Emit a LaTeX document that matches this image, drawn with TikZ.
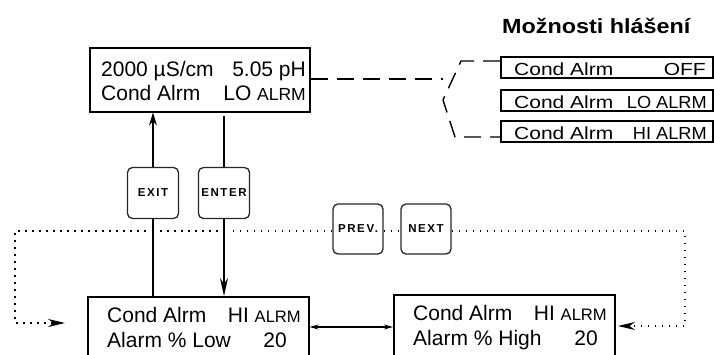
\documentclass[tikz,border=0pt]{standalone}
\usepackage{fontspec}
\setmainfont{Liberation Sans}
\usetikzlibrary{arrows.meta,calc}
\newcommand{\fs}[1]{\fontsize{#1}{#1}\selectfont}
\newcommand{\rbx}[1]{\scalebox{1.2}[1]{\fs{17.5}#1}}
\newcommand{\rtl}[1]{\scalebox{1.04}[1]{\fs{17.5}#1}}
\begin{document}
\begin{tikzpicture}[x=1pt,y=-1pt,
  lcd/.style={draw, line width=1.5pt, inner sep=0, anchor=north west},
  txt/.style={inner sep=0, font=\fs{21}},
  lft/.style={txt, anchor=base west},
  rgt/.style={txt, anchor=base east},
  btn/.style={draw=black!85, line width=1.3pt, rounded corners=5pt,
    minimum width=51pt, minimum height=51pt, inner sep=0,
    font=\fs{11.5}\bfseries\addfontfeature{LetterSpace=14}},
  conn/.style={line width=1.3pt},
  dots/.style={line width=1.8pt, dash pattern=on 1.8pt off 5.2pt},
  dsh/.style={line width=1.4pt, dash pattern=on 17pt off 9pt},
  bigtip/.style={-{Stealth[length=13pt,width=8pt]}},
  dottip/.style={-{Stealth[length=17pt,width=8pt]}},
]
\useasboundingbox (0,0) rectangle (714,354);
\clip (0,0) rectangle (714,354);

% title
\node[inner sep=0, anchor=base west, font=\bfseries\fs{20.5}] (title) at (502,33)
  {\scalebox{1.14}[1]{Možnosti hlášení}};

% main display box
\node[lcd, minimum width=220pt, minimum height=64pt] (top) at (89,47) {};
\node[lft] (t1a) at (101,76) {2000 µS/cm};
\node[rgt] (t1b) at (306,76) {5.05 pH};
\node[lft] (t2a) at (101,100) {Cond Alrm};
\node[rgt] (t2b) at (306,100) {LO {\fs{17.5}ALRM}};

% option boxes
\node[lcd, minimum width=212pt, minimum height=21pt] (o1) at (500,56) {};
\node[lcd, minimum width=212pt, minimum height=21pt] (o2) at (500,89) {};
\node[lcd, minimum width=212pt, minimum height=21pt] (o3) at (500,120) {};
\node[lft] (o1a) at (514,75) {\rbx{Cond Alrm}};
\node[rgt] (o1b) at (706,75) {\rbx{OFF}};
\node[lft] (o2a) at (514,108) {\rbx{Cond Alrm}};
\node[rgt] (o2b) at (707,108) {\rtl{LO ALRM}};
\node[lft] (o3a) at (514,139) {\rbx{Cond Alrm}};
\node[rgt] (o3b) at (707,139) {\rtl{HI ALRM}};

% switch dashed lines
\coordinate (sw) at (443,79);
\coordinate (s1) at (461,61);
\coordinate (s2) at (443,100);
\coordinate (s3) at (455,137);
\draw[dsh] (top.east |- sw) -- (sw);
\draw[dsh] (o1.west |- s1) -- (s1) -- (s2) -- (s3) -- (o3.west |- s3);

% buttons
\node[btn] (exit) at (153,193) {EXIT};
\node[btn] (enter) at (224,193) {ENTER};
\node[btn, minimum width=50pt, minimum height=50pt] (prev) at (358,229) {PREV.};
\node[btn, minimum width=50pt, minimum height=50pt] (next) at (426,229) {NEXT};

% bottom boxes
\node[lcd, minimum width=221pt, minimum height=80pt] (bl) at (87,296) {};
\node[lft] (b1a) at (107,322) {Cond Alrm};
\node[rgt] (b1b) at (301,322) {HI {\fs{16.6}ALRM}};
\node[lft] (b2a) at (107,347) {Alarm \% Low};
\node[rgt] (b2b) at (287,347) {20};

\node[lcd, minimum width=221pt, minimum height=80pt] (br) at (393,294) {};
\node[lft] (c1a) at (413,320) {Cond Alrm};
\node[rgt] (c1b) at (607,320) {HI {\fs{16.6}ALRM}};
\node[lft] (c2a) at (413,345) {Alarm \% High};
\node[rgt] (c2b) at (598,345) {20};

% solid connectors
\draw[conn, bigtip] (exit.north) -- (exit.north |- top.south);
\draw[conn, shorten >=3pt] (enter.north) -- (enter.north |- top.south);
\draw[conn] (exit.south) -- (exit.south |- bl.north);
\draw[conn, -{Stealth[length=18pt,width=8pt]}] (enter.south) -- (enter.south |- bl.north);
\coordinate (mid) at (350,327);
\draw[line width=1.1pt, {Stealth[length=9pt,width=5pt]}-{Stealth[length=9pt,width=5pt]}]
  (bl.east |- mid) -- (br.west |- mid);

% dotted loop
\coordinate (lc) at (15,231);
\coordinate (rc) at (685,231);
\coordinate (la) at (65,323);
\coordinate (ra) at (618,326);
\draw[dots] (prev.west |- lc) -- ($(enter.south |- lc)+(9,0)$);
\draw[dots] ($(enter.south |- lc)+(-6,0)$) -- ($(exit.south |- lc)+(6,0)$);
\draw[dots, dottip] ($(exit.south |- lc)+(-7,0)$) -- (lc) -- (lc |- la) -- (la);
\draw[dots] (prev.east |- lc) -- (next.west |- lc);
\draw[dots, dottip] (next.east |- lc) -- (rc) -- (rc |- ra) -- (ra);
\end{tikzpicture}
\end{document}
